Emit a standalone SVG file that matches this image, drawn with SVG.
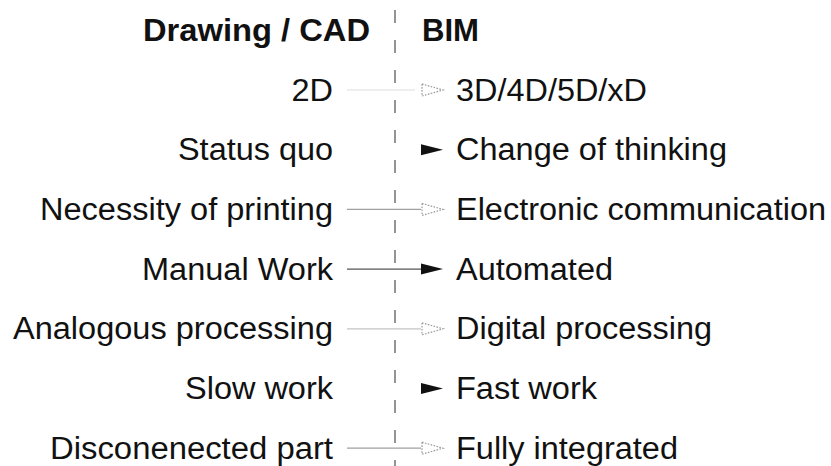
<svg xmlns="http://www.w3.org/2000/svg" xmlns:xlink="http://www.w3.org/1999/xlink" width="831" height="466" viewBox="0 0 831 466">
  <style>
    text { font-family: "Liberation Sans", Arial, sans-serif; fill: #111; font-size: 31px; }
    .head { font-weight: bold; }
    .left { text-anchor: end; }
    .divider { stroke: #7a7a7a; stroke-width: 1.6; stroke-dasharray: 13 17; fill: none; }
    .link { stroke-width: 1.2; fill: none; }
    .faint { stroke: #dedede; }
    .light { stroke: #c4c4c4; }
    .mid { stroke: #a0a0a0; }
    .dark { stroke: #555; }
    .open { fill: none; stroke: #9a9a9a; stroke-width: 1.2; stroke-dasharray: 1.6 1.4; }
    .solid { fill: #111; }
  </style>
  <defs>
    <!-- arrowheads centred on the row axis, tip at x=443 -->
    <path id="tipSolid" class="solid" d="M421,-5.5 L443,0 L421,5.5 Z"/>
    <path id="tipOpen" class="open" d="M422,-6 L443,0 L422,6 Z"/>
  </defs>

  <rect width="831" height="466" fill="#fff"/>

  <!-- column divider -->
  <line class="divider" x1="395" y1="10" x2="395" y2="466"/>

  <!-- headers -->
  <g id="head-cad"><text class="head left" x="370" y="41" textLength="227" lengthAdjust="spacingAndGlyphs">Drawing / CAD</text></g>
  <g id="head-bim"><text class="head" x="422" y="41" textLength="57" lengthAdjust="spacingAndGlyphs">BIM</text></g>

  <!-- left column -->
  <g id="l-2d"><text class="left" x="333" y="100.5" textLength="41.5" lengthAdjust="spacingAndGlyphs">2D</text></g>
  <g id="l-status"><text class="left" x="333" y="160.2" textLength="155" lengthAdjust="spacingAndGlyphs">Status quo</text></g>
  <g id="l-print"><text class="left" x="333" y="219.9" textLength="293" lengthAdjust="spacingAndGlyphs">Necessity of printing</text></g>
  <g id="l-manual"><text class="left" x="333" y="279.6" textLength="191" lengthAdjust="spacingAndGlyphs">Manual Work</text></g>
  <g id="l-analog"><text class="left" x="333" y="339.3" textLength="320" lengthAdjust="spacingAndGlyphs">Analogous processing</text></g>
  <g id="l-slow"><text class="left" x="333" y="399" textLength="148" lengthAdjust="spacingAndGlyphs">Slow work</text></g>
  <g id="l-parts"><text class="left" x="333" y="458.5" textLength="283" lengthAdjust="spacingAndGlyphs">Disconenected part</text></g>

  <!-- right column -->
  <g id="r-xd"><text x="456" y="100.5" textLength="191" lengthAdjust="spacingAndGlyphs">3D/4D/5D/xD</text></g>
  <g id="r-thinking"><text x="456" y="160.2" textLength="271" lengthAdjust="spacingAndGlyphs">Change of thinking</text></g>
  <g id="r-electronic"><text x="456" y="219.9" textLength="370" lengthAdjust="spacingAndGlyphs">Electronic communication</text></g>
  <g id="r-auto"><text x="456" y="279.6" textLength="157" lengthAdjust="spacingAndGlyphs">Automated</text></g>
  <g id="r-digital"><text x="456" y="339.3" textLength="256" lengthAdjust="spacingAndGlyphs">Digital processing</text></g>
  <g id="r-fast"><text x="456" y="399" textLength="141" lengthAdjust="spacingAndGlyphs">Fast work</text></g>
  <g id="r-integrated"><text x="456" y="458.5" textLength="222" lengthAdjust="spacingAndGlyphs">Fully integrated</text></g>

  <!-- connectors -->
  <g id="connectors">
    <line class="link faint" x1="347" y1="90" x2="415" y2="90"/>
    <use href="#tipOpen" xlink:href="#tipOpen" y="90"/>

    <use href="#tipSolid" xlink:href="#tipSolid" y="149.7"/>

    <line class="link mid" x1="347" y1="209.4" x2="421" y2="209.4"/>
    <use href="#tipOpen" xlink:href="#tipOpen" y="209.4"/>

    <line class="link dark" x1="347" y1="269.1" x2="422" y2="269.1"/>
    <use href="#tipSolid" xlink:href="#tipSolid" y="269.1"/>

    <line class="link light" x1="347" y1="328.8" x2="421" y2="328.8"/>
    <use href="#tipOpen" xlink:href="#tipOpen" y="328.8"/>

    <use href="#tipSolid" xlink:href="#tipSolid" y="388.5"/>

    <line class="link mid" x1="347" y1="448.2" x2="421" y2="448.2"/>
    <use href="#tipOpen" xlink:href="#tipOpen" y="448.2"/>
  </g>
</svg>
